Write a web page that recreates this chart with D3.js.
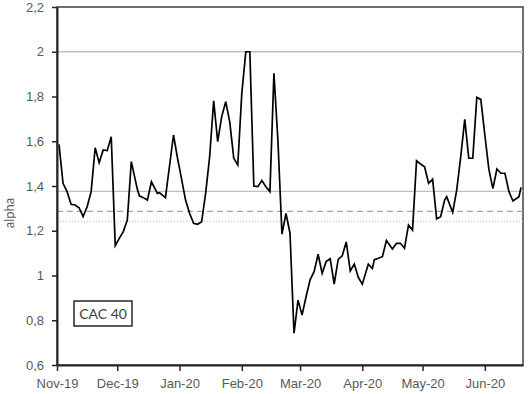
<!DOCTYPE html>
<html>
<head>
<meta charset="utf-8">
<script src="https://cdn.jsdelivr.net/npm/d3@7"></script>
<style>
  body { margin: 0; background: #fff; }
  svg { display: block; font-family: Lato, "Open Sans", sans-serif; }
  .axis text { fill: #595959; font-size: 13px; }
  .axis path, .axis line { stroke: #262626; }
</style>
</head>
<body>
<svg id="chart" width="530" height="394"></svg>
<script>
// alpha series
const dates = [
  "2019-11-02","2019-11-04","2019-11-06","2019-11-08","2019-11-10","2019-11-12","2019-11-14","2019-11-16",
  "2019-11-18","2019-11-20","2019-11-22","2019-11-24","2019-11-26","2019-11-28","2019-11-30","2019-12-02",
  "2019-12-04","2019-12-06","2019-12-08","2019-12-11","2019-12-12","2019-12-14","2019-12-16","2019-12-18",
  "2019-12-21","2019-12-22","2019-12-25","2019-12-26","2019-12-29","2019-12-31","2020-01-01","2020-01-04",
  "2020-01-06","2020-01-08","2020-01-10","2020-01-12","2020-01-14","2020-01-16","2020-01-18","2020-01-20",
  "2020-01-22","2020-01-24","2020-01-26","2020-01-28","2020-01-30","2020-02-01","2020-02-03","2020-02-05",
  "2020-02-07","2020-02-09","2020-02-11","2020-02-13","2020-02-15","2020-02-17","2020-02-19","2020-02-21",
  "2020-02-23","2020-02-25","2020-02-27","2020-02-29","2020-03-02","2020-03-04","2020-03-06","2020-03-08",
  "2020-03-10","2020-03-12","2020-03-14","2020-03-16","2020-03-18","2020-03-20","2020-03-22","2020-03-24",
  "2020-03-26","2020-03-28","2020-03-30","2020-04-01","2020-04-04","2020-04-06","2020-04-07","2020-04-09",
  "2020-04-11","2020-04-13","2020-04-16","2020-04-18","2020-04-20","2020-04-22","2020-04-24","2020-04-26",
  "2020-04-28","2020-04-30","2020-05-02","2020-05-04","2020-05-06","2020-05-08","2020-05-10","2020-05-12",
  "2020-05-13","2020-05-16","2020-05-18","2020-05-20","2020-05-22","2020-05-24","2020-05-26","2020-05-28",
  "2020-05-30","2020-06-01","2020-06-03","2020-06-05","2020-06-07","2020-06-09","2020-06-11","2020-06-13",
  "2020-06-15","2020-06-18","2020-06-19"
];
const alpha = [
  1.586,1.412,1.375,1.318,1.315,1.303,1.263,1.307,
  1.375,1.571,1.504,1.561,1.558,1.620,1.133,1.166,
  1.196,1.248,1.509,1.385,1.356,1.348,1.337,1.419,
  1.367,1.370,1.348,1.419,1.628,1.524,1.479,1.337,
  1.278,1.233,1.229,1.240,1.367,1.531,1.781,1.598,
  1.710,1.777,1.687,1.524,1.494,1.814,2.000,2.000,
  1.400,1.397,1.424,1.397,1.375,1.904,1.600,1.185,
  1.277,1.189,0.742,0.890,0.823,0.905,0.981,1.017,
  1.095,1.010,1.062,1.075,0.962,1.072,1.088,1.150,
  1.020,1.051,0.992,0.961,1.051,1.031,1.071,1.077,
  1.084,1.156,1.118,1.144,1.144,1.122,1.226,1.203,
  1.513,1.498,1.486,1.412,1.431,1.253,1.263,1.337,
  1.352,1.282,1.382,1.531,1.698,1.524,1.524,1.796,
  1.787,1.628,1.475,1.388,1.476,1.457,1.457,1.375,
  1.333,1.352,1.394
];

// horizontal reference levels
const refLevels = [2.0, 1.376];
const meanLevel = 1.287;    // dashed
const lowerLevel = 1.242;   // dotted

const yTicks = [0.6, 0.8, 1, 1.2, 1.4, 1.6, 1.8, 2, 2.2];
const xStart = "2019-11-01", xEnd = "2020-06-20";
const legendText = "CAC 40";

const svg = d3.select("#chart");
const margin = {top: 7, right: 7, bottom: 29, left: 57};
const width = +svg.attr("width") - margin.left - margin.right;
const height = +svg.attr("height") - margin.top - margin.bottom;

const parse = d3.utcParse("%Y-%m-%d");
const data = dates.map((d, i) => ({date: parse(d), value: alpha[i]}));

const x = d3.scaleUtc().domain([parse(xStart), parse(xEnd)]).range([0, width]);
const y = d3.scaleLinear().domain([0.6, 2.2]).range([height, 0]);

const fr = d3.formatLocale({decimal: ",", thousands: ".", grouping: [3], currency: ["", ""]});
const fmtY = fr.format(".1~f");

const g = svg.append("g").attr("transform", "translate(" + margin.left + "," + margin.top + ")");

// plot frame
g.append("rect")
  .attr("width", width).attr("height", height)
  .attr("fill", "none").attr("stroke", "#404040").attr("stroke-width", 1.5);

g.selectAll(".ref")
  .data(refLevels)
  .enter().append("line")
    .attr("class", "ref")
    .attr("x1", 0).attr("x2", width)
    .attr("y1", d => y(d)).attr("y2", d => y(d))
    .attr("stroke", "#bfbfbf").attr("stroke-width", 1.3);

g.append("line")
  .attr("x1", 0).attr("x2", width)
  .attr("y1", y(meanLevel)).attr("y2", y(meanLevel))
  .attr("stroke", "#a6a6a6").attr("stroke-width", 1.2)
  .attr("stroke-dasharray", "6,4");

g.append("line")
  .attr("x1", 0).attr("x2", width)
  .attr("y1", y(lowerLevel)).attr("y2", y(lowerLevel))
  .attr("stroke", "#bfbfbf").attr("stroke-width", 1)
  .attr("stroke-dasharray", "1,2");

const line = d3.line()
  .x(d => x(d.date))
  .y(d => y(d.value));

g.append("path")
  .datum(data)
  .attr("fill", "none")
  .attr("stroke", "#000")
  .attr("stroke-width", 1.7)
  .attr("stroke-linejoin", "miter")
  .attr("d", line);

const xAxis = d3.axisBottom(x)
  .ticks(d3.utcMonth.every(1))
  .tickFormat(d3.utcFormat("%b-%y"))
  .tickSize(6).tickSizeOuter(0).tickPadding(8);

const yAxis = d3.axisLeft(y)
  .tickValues(yTicks)
  .tickFormat(fmtY)
  .tickSize(5).tickSizeOuter(0).tickPadding(8);

g.append("g")
  .attr("class", "axis axis--x")
  .attr("transform", "translate(0," + height + ")")
  .call(xAxis)
  .call(s => s.select(".domain").attr("stroke-width", 2))
  .call(s => s.selectAll(".tick line").attr("stroke-width", 1.5));

g.append("g")
  .attr("class", "axis axis--y")
  .call(yAxis)
  .call(s => s.select(".domain").attr("stroke-width", 2))
  .call(s => s.selectAll(".tick line").attr("stroke-width", 1.5));

svg.append("text")
  .attr("transform", "translate(14," + 213 + ") rotate(-90)")
  .attr("text-anchor", "middle")
  .attr("fill", "#595959")
  .attr("font-size", 13)
  .text("alpha");

// legend box
const legend = g.append("g").attr("transform", "translate(" + (74 - margin.left) + "," + (301 - margin.top) + ")");
legend.append("rect")
  .attr("width", 58).attr("height", 25)
  .attr("fill", "#fff").attr("stroke", "#262626").attr("stroke-width", 1.5);
legend.append("text")
  .attr("x", 29).attr("y", 17.5)
  .attr("text-anchor", "middle")
  .attr("fill", "#404040")
  .attr("font-size", 14)
  .text(legendText);
</script>
</body>
</html>
